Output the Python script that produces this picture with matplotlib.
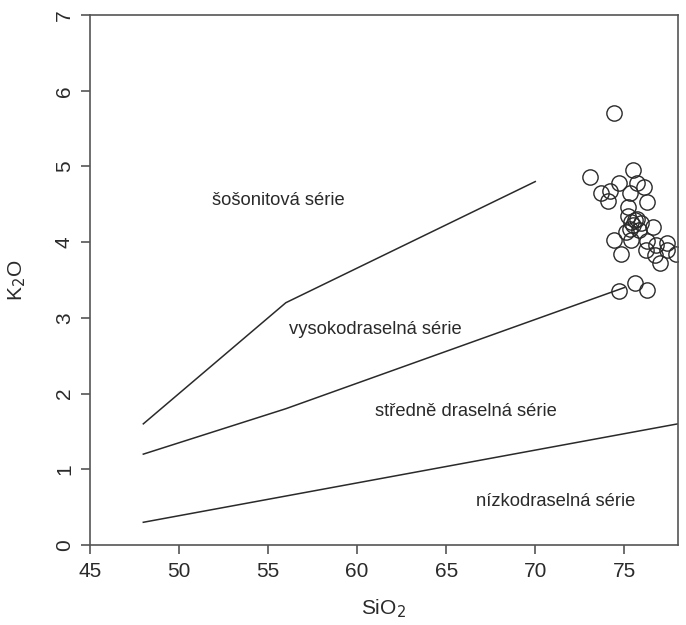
import numpy as np
import matplotlib
matplotlib.use("Agg")
import matplotlib.pyplot as plt

# K2O vs SiO2 classification diagram (Peccerillo & Taylor style)

#---data---#
sio2 = [74.4, 73.06, 75.5, 74.7, 75.7, 76.1, 73.7, 74.2, 75.3, 74.1,
        76.3, 75.2, 75.2, 75.7, 75.4, 75.95, 76.6, 75.3, 75.8, 75.1,
        74.4, 75.4, 76.3, 74.8, 76.2, 76.8, 77.4, 77.4, 77.0, 76.7,
        77.9, 74.7, 75.6, 76.3, 75.5, 75.6]
k2o = [5.70, 4.86, 4.95, 4.78, 4.78, 4.73, 4.65, 4.67, 4.65, 4.55,
       4.53, 4.47, 4.34, 4.31, 4.27, 4.25, 4.20, 4.17, 4.16, 4.14,
       4.03, 4.03, 4.01, 3.85, 3.90, 3.96, 3.99, 3.90, 3.72, 3.83,
       3.85, 3.35, 3.46, 3.37, 4.22, 4.29]

# boundary lines
low_x = [48, 78]
low_y = [0.3, 1.6]
med_x = [48, 56, 75]
med_y = [1.2, 1.8, 3.4]
sho_x = [48, 56, 70]
sho_y = [1.6, 3.2, 4.8]

labels = ["šošonitová série", "vysokodraselná série",
          "středně draselná série", "nízkodraselná série"]
label_x = [55.6, 61.0, 66.1, 71.15]
label_y = [4.55, 2.84, 1.76, 0.57]

#---plot---#
plt.rcParams['font.family'] = ['Liberation Sans', 'DejaVu Sans']
ink = '#2a2a2a'

fig = plt.figure(figsize=(6.86, 6.25), dpi=100)
ax = fig.add_axes([0.131, 0.128, 0.857, 0.848])

for xs, ys in [(low_x, low_y), (med_x, med_y), (sho_x, sho_y)]:
    ax.plot(xs, ys, color=ink, linewidth=1.1)

ax.plot(sio2, k2o, linestyle='none', marker='o', markersize=11,
        markerfacecolor='none', markeredgecolor=ink, markeredgewidth=1.0,
        clip_on=True)

for t, x, y in zip(labels, label_x, label_y):
    ax.text(x, y, t, ha='center', va='center', fontsize=13.2, color=ink)

ax.set_xlim(45, 78)
ax.set_ylim(0, 7)
ax.set_xticks(np.arange(45, 80, 5))
ax.set_yticks(np.arange(0, 8, 1))

for s in ax.spines.values():
    s.set_color('#555555')
    s.set_linewidth(1.2)
ax.tick_params(direction='out', length=6.5, width=1.2, color='#555555',
               labelsize=15, labelcolor=ink)
ax.tick_params(axis='x', pad=6)
ax.tick_params(axis='y', pad=5)
plt.setp(ax.get_yticklabels(), rotation=90, va='center')

ax.set_xlabel('SiO$_2$', fontsize=15, color=ink)
ax.set_ylabel('K$_2$O', fontsize=15, color=ink)
ax.xaxis.set_label_coords(0.5, -0.098)
ax.yaxis.set_label_coords(-0.105, 0.5)

fig.savefig("out.png", dpi=100)
